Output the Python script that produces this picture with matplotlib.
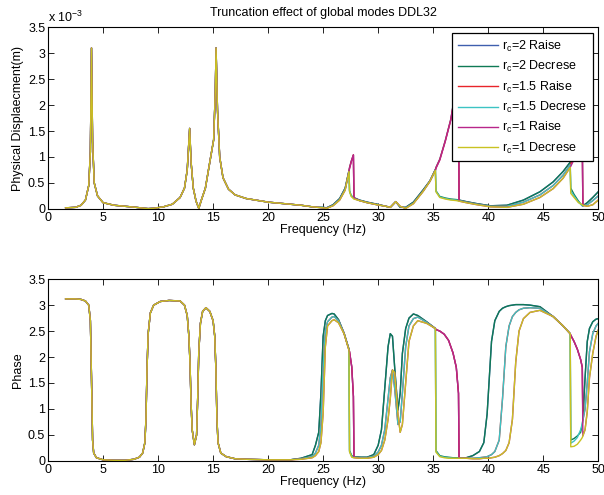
import numpy as np
import matplotlib
matplotlib.use('Agg')
import matplotlib.pyplot as plt

plt.rcParams['font.family'] = ['Liberation Sans', 'DejaVu Sans']
plt.rcParams['mathtext.fontset'] = 'custom'
plt.rcParams['mathtext.rm'] = 'Liberation Sans'
plt.rcParams['mathtext.it'] = 'Liberation Sans'
plt.rcParams['font.size'] = 9

labels = ['$\\mathregular{r_c}$=2 Raise', '$\\mathregular{r_c}$=2 Decrese',
          '$\\mathregular{r_c}$=1.5 Raise', '$\\mathregular{r_c}$=1.5 Decrese',
          '$\\mathregular{r_c}$=1 Raise', '$\\mathregular{r_c}$=1 Decrese']
colors = ['#3f5fae', '#0f7a55', '#e8242a', '#3cc3c3', '#b8268a', '#c9c222']

# ---- amplitude (x 1e-3 m), 1.6 - 24.5 Hz, same for every case
amp_freq_low = [1.6, 2.5, 3.0, 3.4, 3.7, 3.85, 3.95, 4.05, 4.2, 4.5, 5.0, 6.0, 7.0, 8.0, 8.6,
                9.1, 9.6, 10.5, 11.3, 12.0, 12.4, 12.65, 12.87, 13.0, 13.2, 13.45, 13.7, 13.95,
                14.3, 14.7, 15.05, 15.2, 15.27, 15.4, 15.6, 15.9, 16.4, 17.0, 18.0, 20.0, 22.0,
                23.0, 24.0, 24.5]
amp_low = [0.02, 0.03, 0.07, 0.17, 0.45, 1.1, 3.1, 1.3, 0.5, 0.25, 0.12, 0.07, 0.05, 0.03, 0.015,
           0.005, 0.012, 0.04, 0.09, 0.22, 0.4, 0.75, 1.55, 0.9, 0.4, 0.15, 0.01, 0.18,
           0.4, 0.9, 1.33, 2.25, 3.1, 1.9, 1.0, 0.6, 0.38, 0.27, 0.2, 0.13, 0.09,
           0.07, 0.04, 0.03]

# ---- amplitude, 25 - 50 Hz
amp_freq_high = [25.0, 25.3, 25.9, 26.5, 27.0, 27.35, 27.4, 27.55, 27.75, 27.8, 28.3, 29.0, 29.9,
                 30.7, 31.1, 31.6, 32.0, 32.5, 33.2, 34.1, 34.7, 35.2, 35.25, 35.6, 36.1, 36.6,
                 37.1, 37.3, 37.35, 38.0, 39.0, 40.2, 41.7, 43.2, 44.7, 45.9, 46.8, 47.45, 47.5,
                 47.8, 48.2, 48.55, 48.6, 49.0, 49.5, 50.0]
amp_rc2_raise = [0.03, 0.02, 0.08, 0.2, 0.4, 0.74, 0.8, 0.92, 1.04, 0.22, 0.17, 0.13, 0.09,
                 0.05, 0.03, 0.14, 0.03, 0.03, 0.13, 0.37, 0.54, 0.76, 0.8, 0.96, 1.32, 1.73,
                 2.38, 2.62, 0.17, 0.14, 0.1, 0.06, 0.07, 0.17, 0.33, 0.52, 0.72, 0.9, 0.92,
                 1.0, 1.14, 1.28, 0.06, 0.12, 0.22, 0.33]
amp_rc2_dec = [0.03, 0.02, 0.08, 0.2, 0.4, 0.74, 0.35, 0.26, 0.22, 0.21, 0.17, 0.13, 0.09,
               0.05, 0.03, 0.14, 0.03, 0.03, 0.13, 0.37, 0.54, 0.76, 0.35, 0.24, 0.21, 0.19,
               0.18, 0.17, 0.17, 0.14, 0.1, 0.06, 0.07, 0.17, 0.33, 0.52, 0.72, 0.9, 0.4,
               0.28, 0.15, 0.06, 0.06, 0.12, 0.22, 0.33]
amp_rc15_raise = [0.02, 0.01, 0.07, 0.18, 0.38, 0.73, 0.79, 0.91, 1.04, 0.21, 0.16, 0.12, 0.08,
                  0.05, 0.03, 0.14, 0.04, 0.02, 0.11, 0.35, 0.53, 0.75, 0.79, 0.95, 1.31, 1.72,
                  2.36, 2.61, 0.16, 0.13, 0.09, 0.05, 0.05, 0.13, 0.27, 0.45, 0.65, 0.85, 0.87,
                  0.97, 1.12, 1.26, 0.06, 0.08, 0.16, 0.25]
amp_rc15_dec = [0.02, 0.01, 0.07, 0.18, 0.38, 0.73, 0.34, 0.25, 0.21, 0.2, 0.16, 0.12, 0.08,
                0.05, 0.03, 0.14, 0.04, 0.02, 0.11, 0.35, 0.53, 0.75, 0.34, 0.23, 0.2, 0.18,
                0.17, 0.16, 0.16, 0.13, 0.09, 0.05, 0.05, 0.13, 0.27, 0.45, 0.65, 0.85, 0.35,
                0.25, 0.13, 0.06, 0.06, 0.08, 0.16, 0.25]
amp_rc1_raise = [0.02, 0.01, 0.06, 0.17, 0.36, 0.72, 0.78, 0.9, 1.04, 0.2, 0.16, 0.12, 0.08,
                 0.05, 0.03, 0.14, 0.05, 0.01, 0.1, 0.34, 0.53, 0.74, 0.78, 0.94, 1.3, 1.71,
                 2.35, 2.6, 0.15, 0.12, 0.08, 0.04, 0.03, 0.09, 0.22, 0.39, 0.59, 0.8, 0.82,
                 0.95, 1.1, 1.25, 0.07, 0.05, 0.08, 0.17]
amp_rc1_dec = [0.02, 0.01, 0.06, 0.17, 0.36, 0.72, 0.33, 0.24, 0.2, 0.19, 0.16, 0.12, 0.08,
               0.05, 0.03, 0.14, 0.05, 0.01, 0.1, 0.34, 0.53, 0.74, 0.33, 0.22, 0.19, 0.17,
               0.16, 0.15, 0.15, 0.12, 0.08, 0.04, 0.03, 0.09, 0.22, 0.39, 0.59, 0.8, 0.3,
               0.22, 0.12, 0.08, 0.07, 0.05, 0.08, 0.17]

# ---- phase (rad), 1.6 - 22 Hz, same for every case
ph_freq_low = [1.6, 2.5, 3.0, 3.4, 3.7, 3.85, 3.95, 4.05, 4.15, 4.4, 5.0, 6.0, 7.0, 7.8, 8.3,
               8.6, 8.8, 8.9, 9.0, 9.1, 9.3, 9.6, 10.2, 11.0, 12.0, 12.4, 12.65, 12.8, 12.9,
               13.0, 13.1, 13.3, 13.5, 13.6, 13.7, 13.85, 14.05, 14.35, 14.7, 15.0, 15.15,
               15.25, 15.35, 15.45, 15.7, 16.2, 17.0, 18.0, 20.0, 22.0]
ph_low = [3.12, 3.12, 3.11, 3.08, 3.0, 2.7, 1.6, 0.4, 0.15, 0.06, 0.02, 0.01, 0.01, 0.03, 0.07,
          0.15, 0.35, 0.8, 1.8, 2.45, 2.85, 3.0, 3.07, 3.09, 3.08, 3.0, 2.8, 2.4, 1.9,
          1.1, 0.6, 0.31, 0.5, 1.2, 2.1, 2.65, 2.88, 2.95, 2.88, 2.7, 2.4,
          1.8, 0.8, 0.35, 0.15, 0.08, 0.04, 0.03, 0.02, 0.02]

# ---- phase, 23 - 50 Hz
ph_freq_high = [23.0, 24.0, 24.3, 24.6, 24.8, 25.0, 25.2, 25.4, 25.8, 26.0, 26.4, 26.9, 27.35,
                27.4, 27.6, 27.75, 27.8, 28.4, 29.0, 29.6, 30.0, 30.3, 30.6, 30.9, 31.1, 31.3,
                31.5, 31.8, 32.0, 32.2, 32.5, 32.8, 33.2, 33.6, 34.4, 35.2, 35.25, 35.6, 36.0,
                36.4, 36.8, 37.1, 37.3, 37.35, 38.0, 38.6, 39.2, 39.6, 39.9, 40.1, 40.3, 40.6,
                41.0, 41.3, 41.6, 41.9, 42.2, 42.5, 42.8, 43.2, 43.8, 44.7, 45.9, 46.8, 47.45,
                47.5, 47.8, 48.1, 48.4, 48.55, 48.6, 48.8, 49.0, 49.2, 49.5, 49.8, 50.0]
ph_rc2_dec = [0.05, 0.12, 0.3, 0.55, 1.3, 2.4, 2.7, 2.8, 2.84, 2.83, 2.72, 2.46, 2.15,
              0.2, 0.1, 0.08, 0.08, 0.07, 0.07, 0.12, 0.3, 0.6, 1.4, 2.2, 2.45, 2.4,
              1.8, 0.98, 1.3, 2.07, 2.55, 2.75, 2.83, 2.8, 2.68, 2.55, 0.2, 0.1, 0.08,
              0.07, 0.06, 0.06, 0.06, 0.06, 0.06, 0.1, 0.18, 0.35, 0.9, 1.6, 2.3, 2.7,
              2.88, 2.94, 2.97, 2.99, 3.0, 3.01, 3.01, 3.01, 3.0, 2.97, 2.78, 2.6, 2.45,
              0.4, 0.43, 0.48, 0.55, 0.7, 0.8, 1.6, 2.3, 2.55, 2.68, 2.73, 2.74]
ph_rc2_raise = [0.05, 0.12, 0.3, 0.55, 1.3, 2.4, 2.7, 2.8, 2.84, 2.83, 2.72, 2.46, 2.15,
                2.1, 1.81, 1.24, 0.08, 0.07, 0.07, 0.12, 0.3, 0.6, 1.4, 2.2, 2.45, 2.4,
                1.8, 0.98, 1.3, 2.07, 2.55, 2.75, 2.83, 2.8, 2.68, 2.55, 2.53, 2.5, 2.44,
                2.32, 2.08, 1.8, 1.3, 0.06, 0.06, 0.1, 0.18, 0.35, 0.9, 1.6, 2.3, 2.7,
                2.88, 2.94, 2.97, 2.99, 3.0, 3.01, 3.01, 3.01, 3.0, 2.97, 2.78, 2.6, 2.45,
                2.42, 2.3, 2.15, 1.95, 1.8, 0.8, 1.6, 2.3, 2.55, 2.68, 2.73, 2.74]
ph_rc15_dec = [0.04, 0.08, 0.15, 0.3, 0.7, 1.8, 2.5, 2.68, 2.77, 2.78, 2.7, 2.46, 2.14,
               0.18, 0.08, 0.07, 0.07, 0.06, 0.06, 0.09, 0.17, 0.3, 0.6, 1.2, 1.6, 1.75,
               1.4, 0.7, 0.75, 1.3, 2.2, 2.6, 2.74, 2.77, 2.67, 2.55, 0.18, 0.09, 0.07,
               0.06, 0.05, 0.05, 0.05, 0.05, 0.05, 0.05, 0.06, 0.07, 0.08, 0.1, 0.12, 0.18,
               0.4, 1.2, 2.2, 2.6, 2.78, 2.86, 2.91, 2.94, 2.95, 2.94, 2.78, 2.6, 2.45,
               0.34, 0.38, 0.45, 0.6, 0.72, 0.78, 1.0, 1.5, 2.1, 2.45, 2.6, 2.65]
ph_rc15_raise = [0.04, 0.08, 0.15, 0.3, 0.7, 1.8, 2.5, 2.68, 2.77, 2.78, 2.7, 2.46, 2.14,
                 2.1, 1.81, 1.24, 0.07, 0.06, 0.06, 0.09, 0.17, 0.3, 0.6, 1.2, 1.6, 1.75,
                 1.4, 0.7, 0.75, 1.3, 2.2, 2.6, 2.74, 2.77, 2.67, 2.55, 2.53, 2.5, 2.44,
                 2.32, 2.08, 1.8, 1.3, 0.05, 0.05, 0.05, 0.06, 0.07, 0.08, 0.1, 0.12, 0.18,
                 0.4, 1.2, 2.2, 2.6, 2.78, 2.86, 2.91, 2.94, 2.95, 2.94, 2.78, 2.6, 2.45,
                 2.42, 2.3, 2.15, 1.95, 1.8, 0.78, 1.0, 1.5, 2.1, 2.45, 2.6, 2.65]
ph_rc1_dec = [0.03, 0.06, 0.1, 0.18, 0.35, 0.92, 2.2, 2.6, 2.7, 2.72, 2.66, 2.45, 2.13,
              0.17, 0.07, 0.06, 0.06, 0.05, 0.05, 0.07, 0.12, 0.2, 0.4, 0.8, 1.2, 1.75,
              1.7, 0.9, 0.55, 0.7, 1.5, 2.3, 2.6, 2.7, 2.65, 2.55, 0.17, 0.08, 0.06,
              0.05, 0.05, 0.05, 0.05, 0.05, 0.05, 0.04, 0.04, 0.05, 0.05, 0.05, 0.06, 0.07,
              0.1, 0.14, 0.2, 0.35, 0.8, 1.9, 2.5, 2.74, 2.86, 2.9, 2.78, 2.6, 2.45,
              0.27, 0.28, 0.32, 0.4, 0.45, 0.48, 0.6, 0.95, 1.6, 2.07, 2.4, 2.52]
ph_rc1_raise = [0.03, 0.06, 0.1, 0.18, 0.35, 0.92, 2.2, 2.6, 2.7, 2.72, 2.66, 2.45, 2.13,
                2.1, 1.81, 1.24, 0.06, 0.05, 0.05, 0.07, 0.12, 0.2, 0.4, 0.8, 1.2, 1.75,
                1.7, 0.9, 0.55, 0.7, 1.5, 2.3, 2.6, 2.7, 2.65, 2.55, 2.53, 2.5, 2.44,
                2.32, 2.08, 1.8, 1.3, 0.05, 0.05, 0.04, 0.04, 0.05, 0.05, 0.05, 0.06, 0.07,
                0.1, 0.14, 0.2, 0.35, 0.8, 1.9, 2.5, 2.74, 2.86, 2.9, 2.78, 2.6, 2.45,
                2.42, 2.3, 2.15, 1.95, 1.8, 0.48, 0.6, 0.95, 1.6, 2.07, 2.4, 2.52]

amp_high = [amp_rc2_raise, amp_rc2_dec, amp_rc15_raise, amp_rc15_dec, amp_rc1_raise, amp_rc1_dec]
ph_high = [ph_rc2_raise, ph_rc2_dec, ph_rc15_raise, ph_rc15_dec, ph_rc1_raise, ph_rc1_dec]

fig = plt.figure(figsize=(6.04, 4.95), dpi=100)
ax1 = fig.add_axes([0.0795, 0.578, 0.911, 0.367])
ax2 = fig.add_axes([0.0795, 0.069, 0.911, 0.367])

for i in range(6):
    ax1.plot(amp_freq_low + amp_freq_high, amp_low + amp_high[i], color=colors[i], lw=1, label=labels[i])
    ax2.plot(ph_freq_low + ph_freq_high, ph_low + ph_high[i], color=colors[i], lw=1)

for ax in (ax1, ax2):
    ax.set_xlim(0, 50)
    ax.set_ylim(0, 3.5)
    ax.set_xticks(np.arange(0, 51, 5))
    ax.set_yticks(np.arange(0, 3.6, 0.5))
    ax.set_yticklabels(['0', '0.5', '1', '1.5', '2', '2.5', '3', '3.5'])
    ax.tick_params(direction='in', top=True, right=True, length=4, width=0.6, labelsize=9, pad=2)
    for s in ax.spines.values():
        s.set_linewidth(0.8)
    ax.set_xlabel('Frequency (Hz)', labelpad=0)

ax1.set_ylabel('Physical Displaecment(m)', labelpad=3)
ax2.set_ylabel('Phase', labelpad=3)
ax1.set_title('Truncation effect of global modes DDL32', fontsize=9, pad=8)
ax1.text(0.0, 1.012, 'x 10$^{-3}$', transform=ax1.transAxes, fontsize=9, va='bottom', ha='left')

leg = ax1.legend(loc='upper right', bbox_to_anchor=(0.990, 0.967), borderaxespad=0, fontsize=9,
                 handlelength=3.2, labelspacing=0.42, borderpad=0.45, handletextpad=0.35,
                 fancybox=False, framealpha=1)
leg.get_frame().set_edgecolor('black')
leg.get_frame().set_linewidth(0.9)

fig.savefig('out.png', dpi=100)
